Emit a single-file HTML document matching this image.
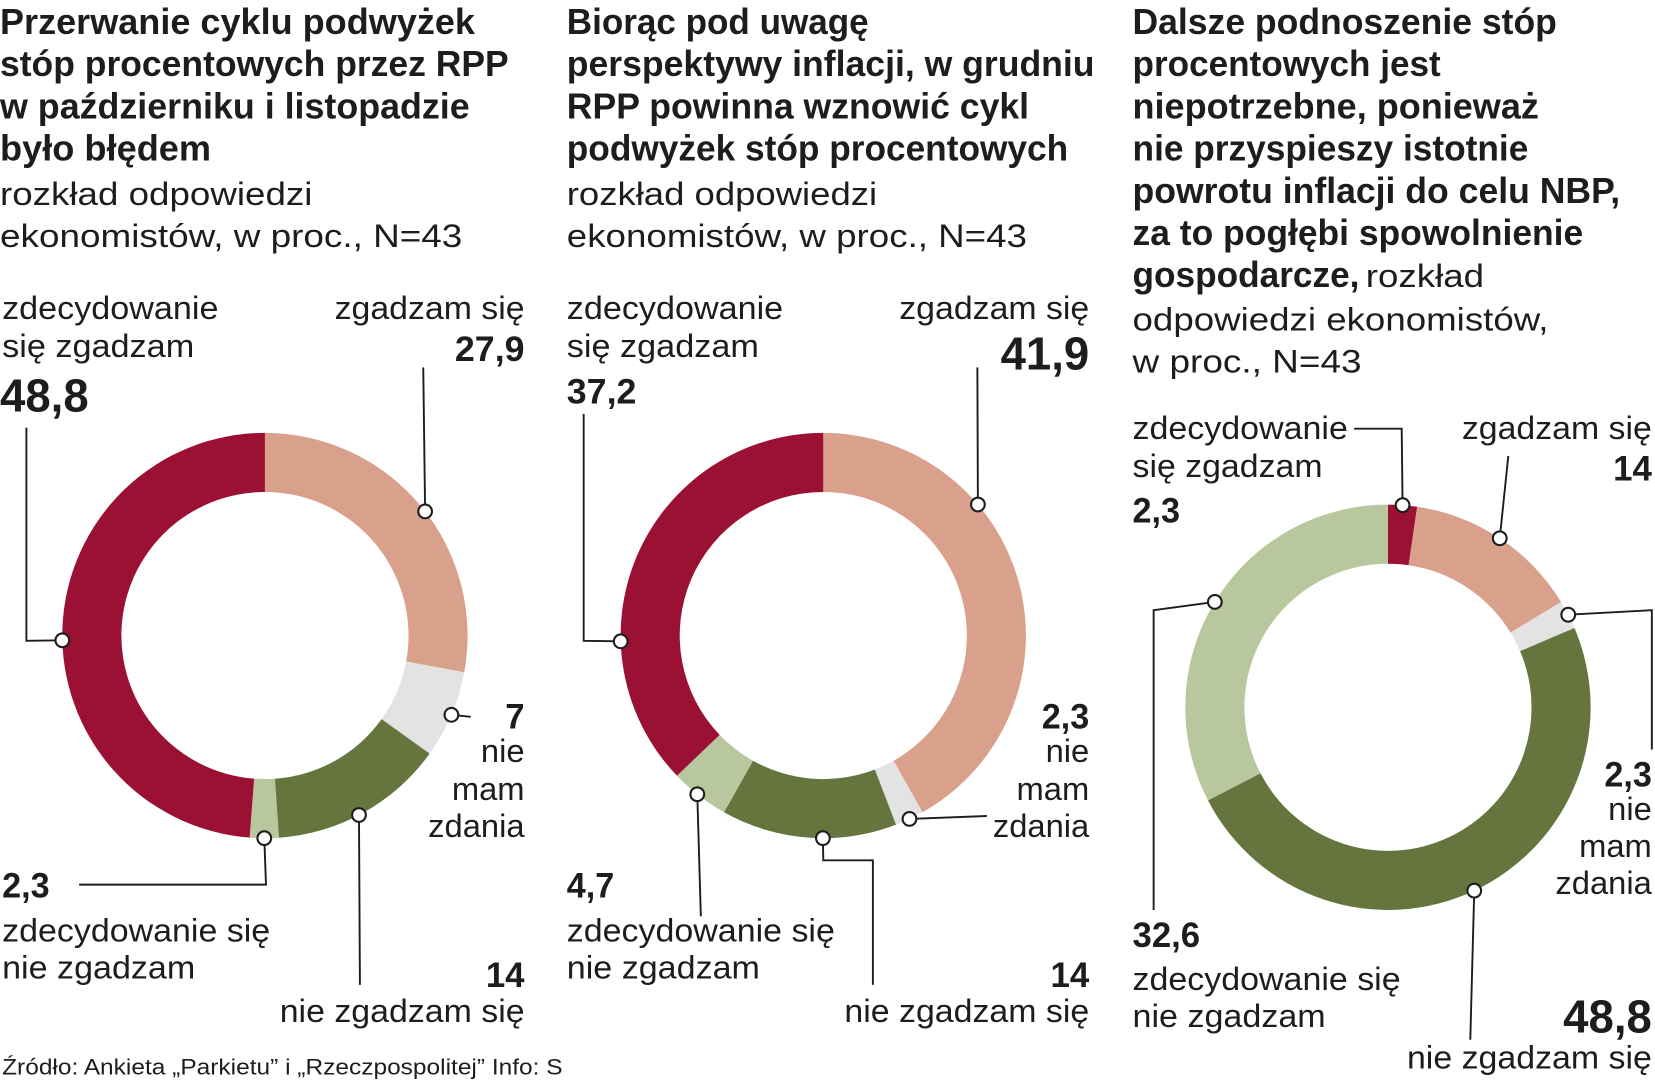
<!DOCTYPE html>
<html><head><meta charset="utf-8"><style>
html,body{margin:0;padding:0;background:#fff;}
svg{display:block;}
text{font-family:"Liberation Sans Narrow","Liberation Sans",sans-serif;fill:#1d1d1b;}
.t{font-weight:bold;font-size:34px;}
.r{font-size:31px;}
.b{font-weight:bold;font-size:33px;}
.bb{font-weight:bold;font-size:44px;}
.f{font-size:21px;}
</style></head><body>
<svg id="chart" width="1655" height="1080" viewBox="0 0 1568 1023" xmlns="http://www.w3.org/2000/svg">
<g>
<text class="t" x="0" y="32" textLength="450" lengthAdjust="spacingAndGlyphs">Przerwanie cyklu podwyżek</text>
<text class="t" x="0" y="72" textLength="482" lengthAdjust="spacingAndGlyphs">stóp procentowych przez RPP</text>
<text class="t" x="0" y="112" textLength="445" lengthAdjust="spacingAndGlyphs">w październiku i listopadzie</text>
<text class="t" x="0" y="152" textLength="200" lengthAdjust="spacingAndGlyphs">było błędem</text>
<text class="r" x="0" y="194" textLength="296" lengthAdjust="spacingAndGlyphs">rozkład odpowiedzi</text>
<text class="r" x="0" y="234" textLength="438" lengthAdjust="spacingAndGlyphs">ekonomistów, w proc., N=43</text>
</g>
<g>
<text class="t" x="537" y="32" textLength="286" lengthAdjust="spacingAndGlyphs">Biorąc pod uwagę</text>
<text class="t" x="537" y="72" textLength="500" lengthAdjust="spacingAndGlyphs">perspektywy inflacji, w grudniu</text>
<text class="t" x="537" y="112" textLength="438" lengthAdjust="spacingAndGlyphs">RPP powinna wznowić cykl</text>
<text class="t" x="537" y="152" textLength="475" lengthAdjust="spacingAndGlyphs">podwyżek stóp procentowych</text>
<text class="r" x="537" y="194" textLength="294" lengthAdjust="spacingAndGlyphs">rozkład odpowiedzi</text>
<text class="r" x="537" y="234" textLength="436" lengthAdjust="spacingAndGlyphs">ekonomistów, w proc., N=43</text>
</g>
<g>
<text class="t" x="1073" y="32" textLength="402" lengthAdjust="spacingAndGlyphs">Dalsze podnoszenie stóp</text>
<text class="t" x="1073" y="72" textLength="292" lengthAdjust="spacingAndGlyphs">procentowych jest</text>
<text class="t" x="1073" y="112" textLength="385" lengthAdjust="spacingAndGlyphs">niepotrzebne, ponieważ</text>
<text class="t" x="1073" y="152" textLength="375" lengthAdjust="spacingAndGlyphs">nie przyspieszy istotnie</text>
<text class="t" x="1073" y="192" textLength="462" lengthAdjust="spacingAndGlyphs">powrotu inflacji do celu NBP,</text>
<text class="t" x="1073" y="232" textLength="427" lengthAdjust="spacingAndGlyphs">za to pogłębi spowolnienie</text>
<text class="t" x="1073" y="272" textLength="215" lengthAdjust="spacingAndGlyphs">gospodarcze,</text>
<text class="r" x="1294" y="272" textLength="112" lengthAdjust="spacingAndGlyphs">rozkład</text>
<text class="r" x="1073" y="313" textLength="394" lengthAdjust="spacingAndGlyphs">odpowiedzi ekonomistów,</text>
<text class="r" x="1073" y="353" textLength="217" lengthAdjust="spacingAndGlyphs">w proc., N=43</text>
</g>
<g id="donuts"></g>
<g id="leaders"></g>
<g>
<text class="r" x="2" y="302" textLength="205" lengthAdjust="spacingAndGlyphs">zdecydowanie</text>
<text class="r" x="2" y="338" textLength="182" lengthAdjust="spacingAndGlyphs">się zgadzam</text>
<text class="bb" x="0" y="390" textLength="84" lengthAdjust="spacingAndGlyphs">48,8</text>
<text class="r" x="497" y="302" text-anchor="end" textLength="180" lengthAdjust="spacingAndGlyphs">zgadzam się</text>
<text class="b" x="497" y="342" text-anchor="end" textLength="66" lengthAdjust="spacingAndGlyphs">27,9</text>
<text class="b" x="497" y="690" text-anchor="end">7</text>
<text class="r" x="497" y="722" text-anchor="end">nie</text>
<text class="r" x="497" y="758" text-anchor="end">mam</text>
<text class="r" x="497" y="793" text-anchor="end">zdania</text>
<text class="b" x="2" y="850" textLength="45" lengthAdjust="spacingAndGlyphs">2,3</text>
<text class="r" x="2" y="892" textLength="254" lengthAdjust="spacingAndGlyphs">zdecydowanie się</text>
<text class="r" x="2" y="927" textLength="183" lengthAdjust="spacingAndGlyphs">nie zgadzam</text>
<text class="b" x="497" y="935" text-anchor="end">14</text>
<text class="r" x="497" y="968" text-anchor="end" textLength="232" lengthAdjust="spacingAndGlyphs">nie zgadzam się</text>
</g>
<g>
<text class="r" x="537" y="302" textLength="205" lengthAdjust="spacingAndGlyphs">zdecydowanie</text>
<text class="r" x="537" y="338" textLength="182" lengthAdjust="spacingAndGlyphs">się zgadzam</text>
<text class="b" x="537" y="382" textLength="66" lengthAdjust="spacingAndGlyphs">37,2</text>
<text class="r" x="1032" y="302" text-anchor="end" textLength="180" lengthAdjust="spacingAndGlyphs">zgadzam się</text>
<text class="bb" x="1032" y="350" text-anchor="end" textLength="84" lengthAdjust="spacingAndGlyphs">41,9</text>
<text class="b" x="1032" y="690" text-anchor="end" textLength="45" lengthAdjust="spacingAndGlyphs">2,3</text>
<text class="r" x="1032" y="722" text-anchor="end">nie</text>
<text class="r" x="1032" y="758" text-anchor="end">mam</text>
<text class="r" x="1032" y="793" text-anchor="end">zdania</text>
<text class="b" x="537" y="850" textLength="45" lengthAdjust="spacingAndGlyphs">4,7</text>
<text class="r" x="537" y="892" textLength="254" lengthAdjust="spacingAndGlyphs">zdecydowanie się</text>
<text class="r" x="537" y="927" textLength="183" lengthAdjust="spacingAndGlyphs">nie zgadzam</text>
<text class="b" x="1032" y="935" text-anchor="end">14</text>
<text class="r" x="1032" y="968" text-anchor="end" textLength="232" lengthAdjust="spacingAndGlyphs">nie zgadzam się</text>
</g>
<g>
<text class="r" x="1073" y="416" textLength="204" lengthAdjust="spacingAndGlyphs">zdecydowanie</text>
<text class="r" x="1073" y="452" textLength="180" lengthAdjust="spacingAndGlyphs">się zgadzam</text>
<text class="b" x="1073" y="495" textLength="45" lengthAdjust="spacingAndGlyphs">2,3</text>
<text class="r" x="1565" y="416" text-anchor="end" textLength="180" lengthAdjust="spacingAndGlyphs">zgadzam się</text>
<text class="b" x="1565" y="455" text-anchor="end">14</text>
<text class="b" x="1565" y="745" text-anchor="end" textLength="45" lengthAdjust="spacingAndGlyphs">2,3</text>
<text class="r" x="1565" y="777" text-anchor="end">nie</text>
<text class="r" x="1565" y="812" text-anchor="end">mam</text>
<text class="r" x="1565" y="847" text-anchor="end">zdania</text>
<text class="b" x="1073" y="897" textLength="64" lengthAdjust="spacingAndGlyphs">32,6</text>
<text class="r" x="1073" y="938" textLength="254" lengthAdjust="spacingAndGlyphs">zdecydowanie się</text>
<text class="r" x="1073" y="973" textLength="183" lengthAdjust="spacingAndGlyphs">nie zgadzam</text>
<text class="bb" x="1565" y="978" text-anchor="end" textLength="84" lengthAdjust="spacingAndGlyphs">48,8</text>
<text class="r" x="1565" y="1012" text-anchor="end" textLength="232" lengthAdjust="spacingAndGlyphs">nie zgadzam się</text>
</g>
<text class="f" x="2" y="1018" textLength="531" lengthAdjust="spacingAndGlyphs">Źródło: Ankieta „Parkietu” i „Rzeczpospolitej”   Info: S</text>
</svg>
<script>
// category order: clockwise from 12 o'clock
const categories1 = ["zgadzam się","nie mam zdania","nie zgadzam się","zdecydowanie się nie zgadzam","zdecydowanie się zgadzam"];
const values1 = [27.9, 7, 14, 2.3, 48.8];
const categories2 = ["zgadzam się","nie mam zdania","nie zgadzam się","zdecydowanie się nie zgadzam","zdecydowanie się zgadzam"];
const values2 = [41.9, 2.3, 14, 4.7, 37.2];
const categories3 = ["zdecydowanie się zgadzam","zgadzam się","nie mam zdania","nie zgadzam się","zdecydowanie się nie zgadzam"];
const values3 = [2.3, 14, 2.3, 48.8, 32.6];
const colorMap = {"zdecydowanie się zgadzam":"#9b1134","zgadzam się":"#d9a18b","nie mam zdania":"#e3e3e3","nie zgadzam się":"#66743e","zdecydowanie się nie zgadzam":"#b8c79e"};
const slugs = {"zdecydowanie się zgadzam":"strongly-agree","zgadzam się":"agree","nie mam zdania":"no-opinion","nie zgadzam się":"disagree","zdecydowanie się nie zgadzam":"strongly-disagree"};
const NS="http://www.w3.org/2000/svg";
const panels=[
 {cats:categories1,vals:values1,cx:251,cy:602,R:192,r:136,
  pos:{"zdecydowanie się zgadzam":0.48,"zgadzam się":0.52,"nie mam zdania":0.5,"nie zgadzam się":0.53,"zdecydowanie się nie zgadzam":0.5},
  leaders:{"zdecydowanie się zgadzam":[[25,607],[25,405]],"zgadzam się":[[401,348]],"nie mam zdania":[[446,679]],"nie zgadzam się":[[341,933]],"zdecydowanie się nie zgadzam":[[252,838],[75,838]]}},
 {cats:categories2,vals:values2,cx:780,cy:602,R:192,r:136,
  pos:{"zdecydowanie się zgadzam":0.315,"zgadzam się":0.33,"nie mam zdania":0.5,"nie zgadzam się":0.42,"zdecydowanie się nie zgadzam":0.54},
  leaders:{"zdecydowanie się zgadzam":[[553,607],[553,392]],"zgadzam się":[[926,348]],"nie mam zdania":[[935,773]],"nie zgadzam się":[[780,815],[827,815],[827,933]],"zdecydowanie się nie zgadzam":[[664,868]]}},
 {cats:categories3,vals:values3,cx:1315,cy:670,R:192,r:136,
  pos:{"zdecydowanie się zgadzam":0.5,"zgadzam się":0.5,"nie mam zdania":0.5,"nie zgadzam się":0.5,"zdecydowanie się nie zgadzam":0.5},
  leaders:{"zdecydowanie się zgadzam":[[1328,406],[1283,406]],"zgadzam się":[[1429,432]],"nie mam zdania":[[1565,578],[1565,710]],"nie zgadzam się":[[1393,985]],"zdecydowanie się nie zgadzam":[[1093,578],[1093,862]]}}
];
function pt(cx,cy,rad,frac){const a=frac*2*Math.PI;return [cx+rad*Math.sin(a),cy-rad*Math.cos(a)];}
const dg=document.getElementById('donuts'), lg=document.getElementById('leaders');
panels.forEach((p,pi)=>{
  const total=p.vals.reduce((a,b)=>a+b,0);
  let acc=0;
  const dots=[];
  p.vals.forEach((v,i)=>{
    const f0=acc/total, f1=(acc+v)/total; acc+=v;
    const large=(f1-f0)>0.5?1:0;
    const [x0,y0]=pt(p.cx,p.cy,p.R,f0),[x1,y1]=pt(p.cx,p.cy,p.R,f1);
    const [x2,y2]=pt(p.cx,p.cy,p.r,f1),[x3,y3]=pt(p.cx,p.cy,p.r,f0);
    const path=document.createElementNS(NS,'path');
    path.setAttribute('d',`M${x0},${y0}A${p.R},${p.R} 0 ${large} 1 ${x1},${y1}L${x2},${y2}A${p.r},${p.r} 0 ${large} 0 ${x3},${y3}Z`);
    path.setAttribute('fill',colorMap[p.cats[i]]);
    
    
    dg.appendChild(path);
    const k=p.pos[p.cats[i]];
    const [dx,dy]=pt(p.cx,p.cy,p.R,f0+(f1-f0)*k);
    const pts=[[dx,dy]].concat(p.leaders[p.cats[i]]);
    const pl=document.createElementNS(NS,'polyline');
    pl.setAttribute('points',pts.map(q=>q.join(',')).join(' '));
    pl.setAttribute('fill','none');pl.setAttribute('stroke','#1d1d1b');pl.setAttribute('stroke-width','1.8');
    
    
    lg.appendChild(pl);
    dots.push([dx,dy,p.cats[i]]);
  });
  dots.forEach(d=>{
    const c=document.createElementNS(NS,'circle');
    c.setAttribute('cx',d[0]);c.setAttribute('cy',d[1]);c.setAttribute('r',6.5);
    c.setAttribute('fill','#fff');c.setAttribute('stroke','#1d1d1b');c.setAttribute('stroke-width','2');
    
    
    lg.appendChild(c);
  });
});
</script>
</body></html>
